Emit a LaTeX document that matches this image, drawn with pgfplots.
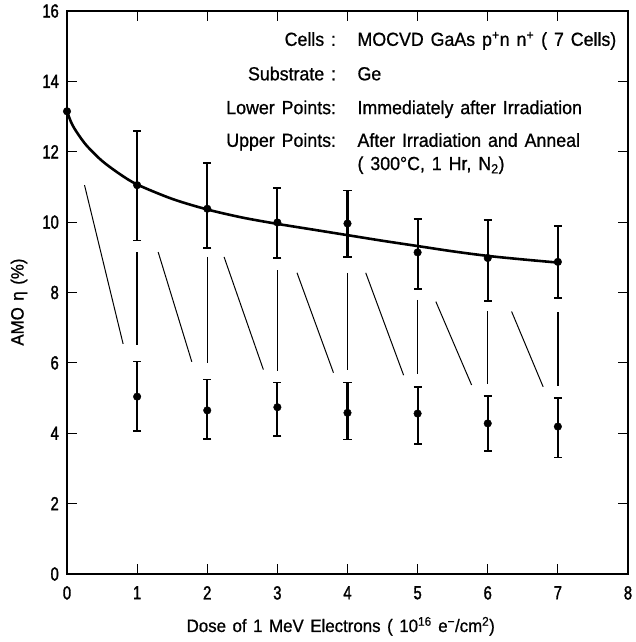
\documentclass[border=0pt]{standalone}
\usepackage{pgfplots}
\pgfplotsset{compat=1.18}
\usepackage{pgfplotstable}
\usepackage{fontspec}
\setmainfont[FakeStretch=0.94, WordSpace=1.4, FakeBold=0.8]{Liberation Sans}
\newfontfamily\tickfont[FakeStretch=0.78, FakeBold=1.6]{Liberation Sans}
\newcommand\tk{\tickfont\fontsize{19}{19}\selectfont}

% Annealed (upper) cells: dose, efficiency, error above, error below
\pgfplotstableread{
x  y      ep    em
1  11.05  1.55  1.57
2  10.38  1.31  1.12
3  9.99   0.99  1.00
4  9.96   0.94  0.96
5  9.14   0.95  1.05
6  8.98   1.09  1.22
7  8.87   1.01  1.03
}\upperdata

% Cells measured immediately after irradiation (lower points)
\pgfplotstableread{
x  y     ep    em
1  5.04  1.00  0.97
2  4.65  0.88  0.81
3  4.74  0.70  0.82
4  4.58  0.86  0.76
5  4.56  0.75  0.86
6  4.28  0.77  0.79
7  4.19  0.82  0.88
}\lowerdata

\begin{document}
\begin{tikzpicture}
\begin{axis}[
  name=ax,
  scale only axis,
  width=561bp, height=563bp,
  xmin=0, xmax=8, ymin=0, ymax=16,
  xtick={0,1,...,8}, ytick={0,2,...,16},
  xticklabels={{\tk 0},{\tk 1},{\tk 2},{\tk 3},{\tk 4},{\tk 5},{\tk 6},{\tk 7},{\tk 8}},
  yticklabels={{\tk 0},{\tk 2},{\tk 4},{\tk 6},{\tk 8},{\tk 10},{\tk 12},{\tk 14},{\tk 16}},
  tick align=inside,
  major tick length=10bp,
  tick style={line width=1.2pt, black},
  axis line style={line width=2pt},
  tick label style={inner sep=0pt},
  xticklabel style={anchor=north, yshift=-12bp},
  yticklabel style={anchor=east, xshift=-8bp},
  xlabel={Dose of 1 MeV Electrons ( 10\textsuperscript{16} e\textsuperscript{−}/cm\textsuperscript{2})},
  ylabel={AMO η (\%)},
  label style={font=\fontsize{18}{18}\selectfont},
  xlabel style={at={(axis description cs:0.488,-0.103)}, anchor=base},
  ylabel style={at={(axis description cs:-0.0856,0.483)}, anchor=center},
  clip=false,
]

% fitted trend through the annealed points
\addplot[black, line width=2.6pt, smooth, tension=0.5] coordinates {
  (0,13.15) (0.05,12.88) (0.1,12.68) (0.2,12.38) (0.3,12.13)
  (0.5,11.74) (0.75,11.37) (1,11.07) (1.5,10.66) (2,10.36)
  (2.5,10.13) (3,9.95) (3.5,9.79) (4,9.63) (4.5,9.47)
  (5,9.32) (5.5,9.17) (6,9.04) (6.5,8.94) (7,8.85)
};

% starting (unirradiated) value
\addplot[only marks, mark=*, mark size=3.8bp, black] coordinates {(0,13.15)};

% annealed points
\addplot[only marks, mark=*, mark size=3.8bp, black,
  error bars/.cd, y dir=both, y explicit,
  error bar style={line width=2.1pt},
  error mark options={rotate=90, mark size=4bp, line width=1.8pt}]
  table[x=x, y=y, y error plus=ep, y error minus=em] {\upperdata};

% irradiated points
\addplot[only marks, mark=*, mark size=3.8bp, black,
  error bars/.cd, y dir=both, y explicit,
  error bar style={line width=2.1pt},
  error mark options={rotate=90, mark size=4bp, line width=1.8pt}]
  table[x=x, y=y, y error plus=ep, y error minus=em] {\lowerdata};

% vertical guides between the two sets
\addplot[black, line width=1.5pt, unbounded coords=jump] coordinates {
  (1,9.15) (1,6.50) (1,nan)
  (2,9.01) (2,6.00) (2,nan)
  (3,8.63) (3,5.77) (3,nan)
  (4,8.56) (4,5.79) (4,nan)
  (5,7.79) (5,5.67) (5,nan)
  (6,7.46) (6,5.39) (6,nan)
  (7,7.44) (7,5.34)
};

% slanted guides
\addplot[black, line width=1pt, unbounded coords=jump] coordinates {
  (0.25,11.05) (0.80,6.54) (0.8,nan)
  (1.30,9.15) (1.78,6.03) (1.78,nan)
  (2.24,9.01) (2.80,5.81) (2.8,nan)
  (3.28,8.56) (3.80,5.72) (3.8,nan)
  (4.26,8.56) (4.80,5.65) (4.8,nan)
  (5.26,7.74) (5.77,5.37) (5.77,nan)
  (6.34,7.46) (6.79,5.32)
};

% description block
\begin{scope}[every node/.style={font=\fontsize{19}{19}\selectfont, inner sep=0pt}]
\node[anchor=base east] at (axis cs:3.84,15.01) {Cells :};
\node[anchor=base west] at (axis cs:4.14,15.01) {MOCVD GaAs p\textsuperscript{+}n n\textsuperscript{+} ( 7 Cells)};
\node[anchor=base east] at (axis cs:3.84,14.03) {Substrate :};
\node[anchor=base west] at (axis cs:4.14,14.03) {Ge};
\node[anchor=base east] at (axis cs:3.84,13.07) {Lower Points:};
\node[anchor=base west] at (axis cs:4.14,13.07) {Immediately after Irradiation};
\node[anchor=base east] at (axis cs:3.84,12.14) {Upper Points:};
\node[anchor=base west] at (axis cs:4.14,12.14) {After Irradiation and Anneal};
\node[anchor=base west] at (axis cs:4.14,11.48) {( 300°C, 1 Hr, N\textsubscript{2})};
\end{scope}
\end{axis}
\pgfresetboundingbox
\path[use as bounding box] ([xshift=-67bp,yshift=-68bp]ax.south west) rectangle ([xshift=8bp,yshift=11bp]ax.north east);
\end{tikzpicture}
\end{document}
